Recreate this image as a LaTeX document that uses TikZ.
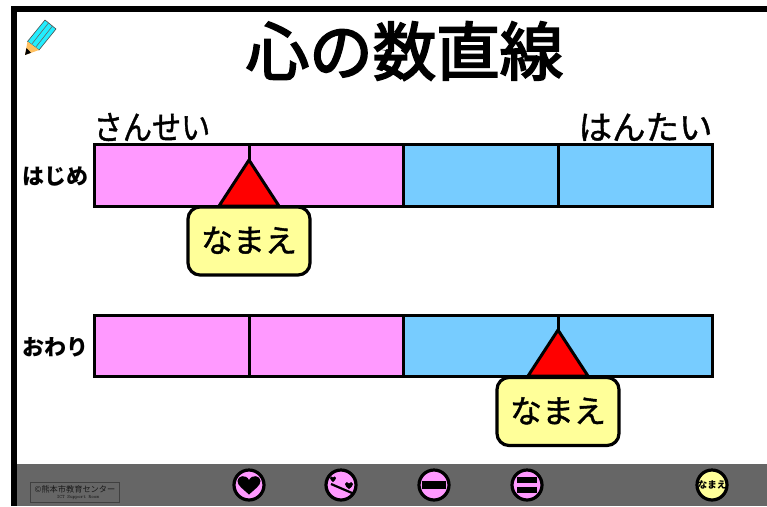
\documentclass[tikz,border=0pt]{standalone}
\usepackage{fontspec}
\setmainfont{Noto Sans CJK JP}
\newfontfamily\boldishfont[FakeBold=3]{Noto Sans CJK JP}
\newfontfamily\semifont[FakeBold=1.2]{Noto Sans CJK JP}
\definecolor{pinkbar}{HTML}{FF99FF}
\definecolor{bluebar}{HTML}{77CCFF}
\definecolor{namefill}{HTML}{FFFF99}
\definecolor{band}{HTML}{666666}
\definecolor{pencil}{HTML}{22EEFF}
\definecolor{wood}{HTML}{FFC060}
\tikzset{
  barline/.style={line width=3pt,draw=black},
  marker/.style={fill=red,draw=black,line width=3pt,line join=round},
  namebox/.style={fill=namefill,draw=black,line width=3.2pt,rounded corners=12pt,minimum width=122pt,minimum height=68pt,inner sep=0pt,font=\semifont\fontsize{32}{32}\selectfont},
  btn/.style={circle,fill=pinkbar,draw=black,line width=3.2pt,minimum size=30pt,inner sep=0pt},
  head/.style={inner sep=0pt,font=\semifont\fontsize{33.5}{33.5}\selectfont},
  rowlabel/.style={inner sep=0pt,font=\bfseries\fontsize{22}{22}\selectfont},
}
\begin{document}
\begin{tikzpicture}[x=1pt,y=-1pt]
\useasboundingbox (0,0) rectangle (767,506);
\fill[white] (0,0) rectangle (767,506);
% frame and band
\fill[black] (11,6) rectangle (767,12);
\fill[black] (11,6) rectangle (17,506);
\fill[band] (17,464) rectangle (767,506);
% pencil
\fill[pencil,draw=black!70,line width=.6pt] (27.5,41.5) -- (45,20) -- (56,29) -- (39,50) -- cycle;
\draw[black!60,line width=.6pt] (31.5,44.5) -- (48.5,23) (35.5,47.5) -- (52.5,26);
\fill[wood] (27.5,41.5) -- (39,50) -- (25,55) -- cycle;
\fill[black] (26.5,48) -- (31,52.8) -- (25,55) -- cycle;
% title
\node[inner sep=0pt,font=\boldishfont\fontsize{63.5}{63.5}\selectfont] (title) at (404.5,51) {心の数直線};
% headings
\node[head,xscale=.87] (agree) at (152,127) {さんせい};
\node[head] (disagree) at (645.5,127) {はんたい};
\node[rowlabel] (first) at (55.5,176) {はじめ};
\node[rowlabel] (last) at (55.5,347) {おわり};
% top bar
\fill[pinkbar] (94,144) rectangle (403,206);
\fill[bluebar] (403,144) rectangle (712,206);
\draw[barline] (94,144) rectangle (712,206);
\draw[barline] (249,144) -- (249,206) (403,144) -- (403,206) (558,144) -- (558,206);
% bottom bar
\fill[pinkbar] (94,315) rectangle (403,376);
\fill[bluebar] (403,315) rectangle (712,376);
\draw[barline] (94,315) rectangle (712,376);
\draw[barline] (249,315) -- (249,376) (403,315) -- (403,376) (558,315) -- (558,376);
% markers
\draw[marker] (249,160) -- (279,206) -- (219,206) -- cycle;
\draw[marker] (558,330) -- (588,376) -- (528,376) -- cycle;
\node[namebox] (nameA) at (249,241) {\raisebox{3pt}{なまえ}};
\node[namebox] (nameB) at (558,411.5) {\raisebox{3pt}{なまえ}};
% logo
\node[draw=black!75,fill=black!60,line width=.7pt,minimum width=89pt,minimum height=20pt,inner sep=0pt] (logo) at (74.5,492) {};
\node[inner sep=0pt,text=black!90,font=\fontsize{8.2}{8.2}\selectfont] (logoA) at (75,489) {©熊本市教育センター};
\node[inner sep=0pt,text=black!90,font=\ttfamily\fontsize{5}{5}\selectfont] (logoB) at (78,497.5) {ICT Support Room};
% buttons
\node[btn] (b1) at (249,485) {};
\fill[black] (249,494.5) .. controls (243,489) and (237.5,485.5) .. (237.5,481) .. controls (237.5,475.5) and (246,474) .. (249,480) .. controls (252,474) and (260.5,475.5) .. (260.5,481) .. controls (260.5,485.5) and (255,489) .. (249,494.5) -- cycle;
\node[btn] (b2) at (341,485) {};
\fill[black] (333,482) .. controls (331.5,480.5) and (330,479.5) .. (330,478) .. controls (330,476) and (332.5,476) .. (333,477.5) .. controls (333.5,476) and (336,476) .. (336,478) .. controls (336,479.5) and (334.5,480.5) .. (333,482) -- cycle;
\fill[black] (349,489) .. controls (347,487.5) and (345,486) .. (345,484) .. controls (345,481.5) and (348.5,481.5) .. (349,483.5) .. controls (349.5,481.5) and (353,481.5) .. (353,484) .. controls (353,486) and (351,487.5) .. (349,489) -- cycle;
\draw[black,line width=2.2pt] (331,484) -- (352,493);
\node[btn] (b3) at (434,485) {};
\fill[black] (422,481) rectangle (446,489);
\node[btn] (b4) at (527,485) {};
\fill[black] (517,476.5) rectangle (537,482.5);
\fill[black] (517,487) rectangle (537,493);
\node[btn,fill=namefill,font=\bfseries\fontsize{9.5}{9.5}\selectfont] (b5) at (712,485) {なまえ};
\end{tikzpicture}
\end{document}
